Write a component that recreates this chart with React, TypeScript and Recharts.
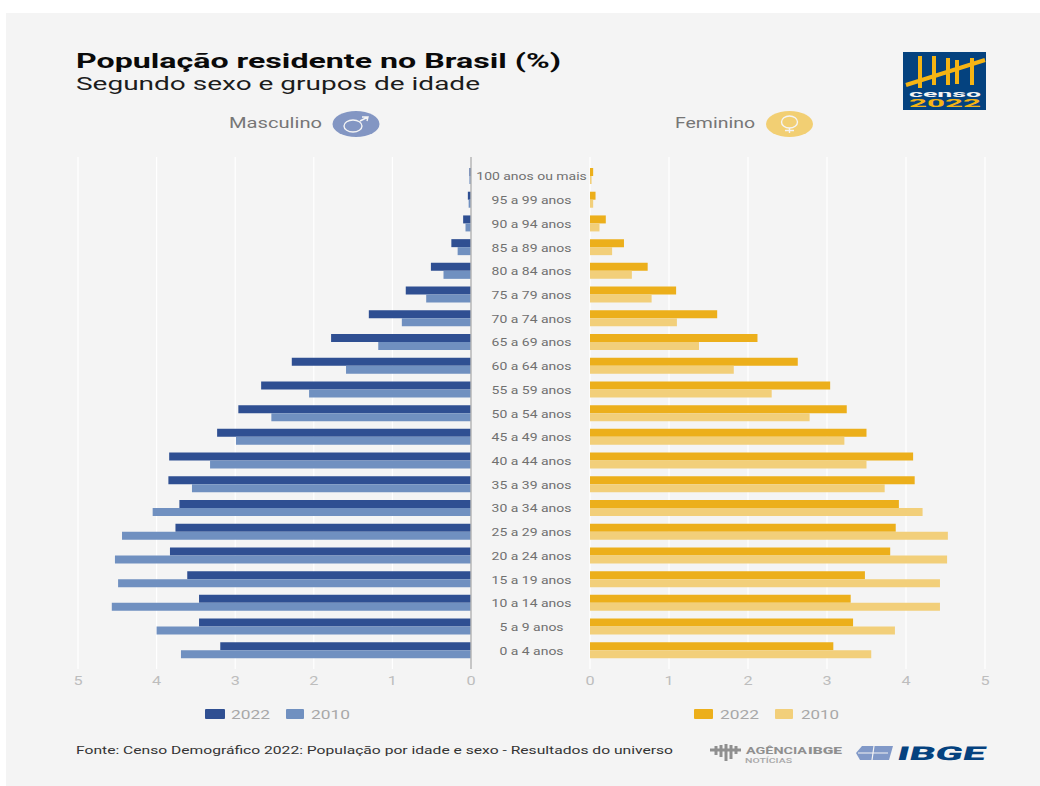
import { Bar, BarChart, CartesianGrid, XAxis, YAxis } from "recharts";

const FONT = "Roboto, sans-serif";

const ageGroups = [
  "100 anos ou mais", "95 a 99 anos", "90 a 94 anos", "85 a 89 anos", "80 a 84 anos",
  "75 a 79 anos", "70 a 74 anos", "65 a 69 anos", "60 a 64 anos", "55 a 59 anos",
  "50 a 54 anos", "45 a 49 anos", "40 a 44 anos", "35 a 39 anos", "30 a 34 anos",
  "25 a 29 anos", "20 a 24 anos", "15 a 19 anos", "10 a 14 anos", "5 a 9 anos", "0 a 4 anos",
];

const male2022 = [0.02, 0.04, 0.1, 0.25, 0.51, 0.83, 1.3, 1.78, 2.28, 2.67, 2.96, 3.23, 3.84, 3.85, 3.71, 3.76, 3.83, 3.61, 3.46, 3.46, 3.19];
const male2010 = [0.02, 0.03, 0.07, 0.17, 0.35, 0.57, 0.88, 1.18, 1.59, 2.06, 2.54, 2.99, 3.32, 3.55, 4.05, 4.44, 4.53, 4.49, 4.57, 4.0, 3.69];
const female2022 = [0.04, 0.07, 0.2, 0.43, 0.73, 1.09, 1.61, 2.12, 2.63, 3.04, 3.25, 3.5, 4.09, 4.11, 3.91, 3.87, 3.8, 3.48, 3.3, 3.33, 3.08];
const female2010 = [0.02, 0.04, 0.12, 0.28, 0.53, 0.78, 1.1, 1.38, 1.82, 2.3, 2.78, 3.22, 3.5, 3.73, 4.21, 4.53, 4.52, 4.43, 4.43, 3.86, 3.56];

const xTicks = [0, 1, 2, 3, 4, 5];

const maleData = ageGroups.map((age, i) => ({ age, y2022: male2022[i], y2010: male2010[i] }));
const femaleData = ageGroups.map((age, i) => ({ age, y2022: female2022[i], y2010: female2010[i] }));

const AXIS_LINE = { stroke: "#b4b4b4", strokeWidth: 1.5 };

// the source picture is stretched sideways, so its text gets stretched too
function AgeTick({ x, y, payload }: any) {
  return (
    <g transform={`translate(${x + 54.5},${y + 0.5}) scale(1.33,1)`}>
      <text textAnchor="middle" dy={4} fontSize={10.5} fill="#707070" fontFamily={FONT}>
        {payload.value}
      </text>
    </g>
  );
}

function ValueTick({ x, y, payload }: any) {
  return (
    <g transform={`translate(${x},${y}) scale(1.25,1)`}>
      <text textAnchor="middle" y={8} fontSize={13} fill="#bdbdbd" fontFamily={FONT}>
        {payload.value}
      </text>
    </g>
  );
}

function Label({ x, y, w, size, fill, weight, children }: any) {
  return (
    <text
      x={x}
      y={y}
      fontSize={size}
      fill={fill}
      fontWeight={weight ?? 400}
      fontFamily={FONT}
      textLength={w}
      lengthAdjust="spacingAndGlyphs"
    >
      {children}
    </text>
  );
}

function Header() {
  return (
    <svg width={1040} height={786} style={{ position: "absolute", left: 0, top: 0 }}>
      <rect x={6} y={13} width={1034} height={773} fill="#f4f4f4" />
      <Label x={76} y={68} w={485} size={21} fill="#0a0a0a" weight={700}>População residente no Brasil (%)</Label>
      <Label x={76} y={90} w={404} size={19} fill="#1c1c1c">Segundo sexo e grupos de idade</Label>

      <Label x={229} y={128} w={93} size={14} fill="#767676">Masculino</Label>
      <ellipse cx={356} cy={124} rx={23.5} ry={13} fill="#8396c3" />
      <ellipse cx={353} cy={126} rx={9} ry={6} fill="none" stroke="#f4f4f4" strokeWidth={1.4} />
      <path d="M360 121 L368 117 M362 117 L368 117 L367 121" fill="none" stroke="#f4f4f4" strokeWidth={1.4} />

      <Label x={675} y={128} w={80} size={14} fill="#767676">Feminino</Label>
      <ellipse cx={789.5} cy={124} rx={23.5} ry={13} fill="#f2cf73" />
      <ellipse cx={789.5} cy={122} rx={8} ry={6} fill="none" stroke="#f4f4f4" strokeWidth={1.4} />
      <path d="M789.5 128 V133 M785 130.5 H794" fill="none" stroke="#f4f4f4" strokeWidth={1.4} />

      <rect x={903} y={52} width={83} height={58} fill="#04427f" />
      <path
        d="M920 56 V88 M934 56 V85 M948 58 V85 M957 60 V84 M972 58 V85 M906 85 L985 60"
        fill="none"
        stroke="#f5b414"
        strokeWidth={4}
      />
      <Label x={909} y={97} w={72} size={9} fill="#f4f4f4" weight={700}>censo</Label>
      <Label x={909} y={107} w={72} size={10} fill="#f5b414" weight={700}>2022</Label>

      <rect x={205} y={709} width={20} height={10} rx={1} fill="#2f4f92" />
      <Label x={231} y={719} w={39} size={13} fill="#a8a8a8">2022</Label>
      <rect x={286} y={709} width={18} height={10} rx={1} fill="#7090c0" />
      <Label x={311} y={719} w={39} size={13} fill="#a8a8a8">2010</Label>
      <rect x={694} y={709} width={19} height={10} rx={1} fill="#ecaf1b" />
      <Label x={720} y={719} w={39} size={13} fill="#a8a8a8">2022</Label>
      <rect x={775} y={709} width={18} height={10} rx={1} fill="#f2cf7a" />
      <Label x={801} y={719} w={38} size={13} fill="#a8a8a8">2010</Label>

      <Label x={76} y={754} w={597} size={11.5} fill="#333333">
        Fonte: Censo Demográfico 2022: População por idade e sexo - Resultados do universo
      </Label>

      <path d="M710 750 H741 M716 746 V755 M721 745 V757 M726 744 V761 M731 745 V759 M736 746 V754" stroke="#8f8f8f" strokeWidth={3} fill="none" />
      <Label x={746} y={754} w={61} size={9.5} fill="#8f8f8f" weight={700}>AGÊNCIA</Label>
      <Label x={808} y={754} w={34} size={9.5} fill="#8f8f8f" weight={900}>IBGE</Label>
      <Label x={745} y={763} w={47} size={7} fill="#a8a8a8" weight={500}>NOTÍCIAS</Label>
      <path d="M862 746 H893 L889 760 H860 L856 753 Z" fill="#8199c8" />
      <path d="M858 753 H888 M874 746 L872 760" stroke="#f4f4f4" strokeWidth={1.2} fill="none" />
      <g transform="translate(896,760) skewX(-14)">
        <Label x={0} y={0} w={88} size={19} fill="#04427f" weight={900}>IBGE</Label>
      </g>
    </svg>
  );
}

export default function App() {
  return (
    <div style={{ position: "absolute", left: 0, top: 0, width: 1040, height: 786, overflow: "hidden" }}>
      <Header />

      <div style={{ position: "absolute", left: 58, top: 150 }}>
        <BarChart
          width={532}
          height={549}
          data={maleData}
          layout="vertical"
          barSize={8}
          barGap={0}
          margin={{ top: 7, right: 0, bottom: 0, left: 20 }}
        >
          <CartesianGrid horizontal={false} stroke="#ffffff" strokeWidth={1.2} />
          <XAxis type="number" reversed domain={[0, 5]} ticks={xTicks} height={30} axisLine={false} tickLine={false} tick={<ValueTick />} />
          <YAxis
            type="category"
            dataKey="age"
            orientation="right"
            width={119}
            interval={0}
            padding={{ top: 7, bottom: 7 }}
            axisLine={AXIS_LINE}
            tickLine={false}
            tickMargin={0}
            tick={<AgeTick />}
          />
          <Bar dataKey="y2022" fill="#2f4f92" isAnimationActive={false} />
          <Bar dataKey="y2010" fill="#7090c0" isAnimationActive={false} />
        </BarChart>
      </div>

      <div style={{ position: "absolute", left: 570, top: 150 }}>
        <BarChart
          width={435}
          height={549}
          data={femaleData}
          layout="vertical"
          barSize={8}
          barGap={0}
          margin={{ top: 7, right: 20, bottom: 0, left: 20 }}
        >
          <CartesianGrid horizontal={false} stroke="#ffffff" strokeWidth={1.2} />
          <XAxis type="number" domain={[0, 5]} ticks={xTicks} height={30} axisLine={false} tickLine={false} tick={<ValueTick />} />
          <YAxis
            type="category"
            dataKey="age"
            width={0}
            interval={0}
            padding={{ top: 7, bottom: 7 }}
            axisLine={AXIS_LINE}
            tickLine={false}
            tick={false}
          />
          <Bar dataKey="y2022" fill="#ecaf1b" isAnimationActive={false} />
          <Bar dataKey="y2010" fill="#f2cf7a" isAnimationActive={false} />
        </BarChart>
      </div>
    </div>
  );
}
